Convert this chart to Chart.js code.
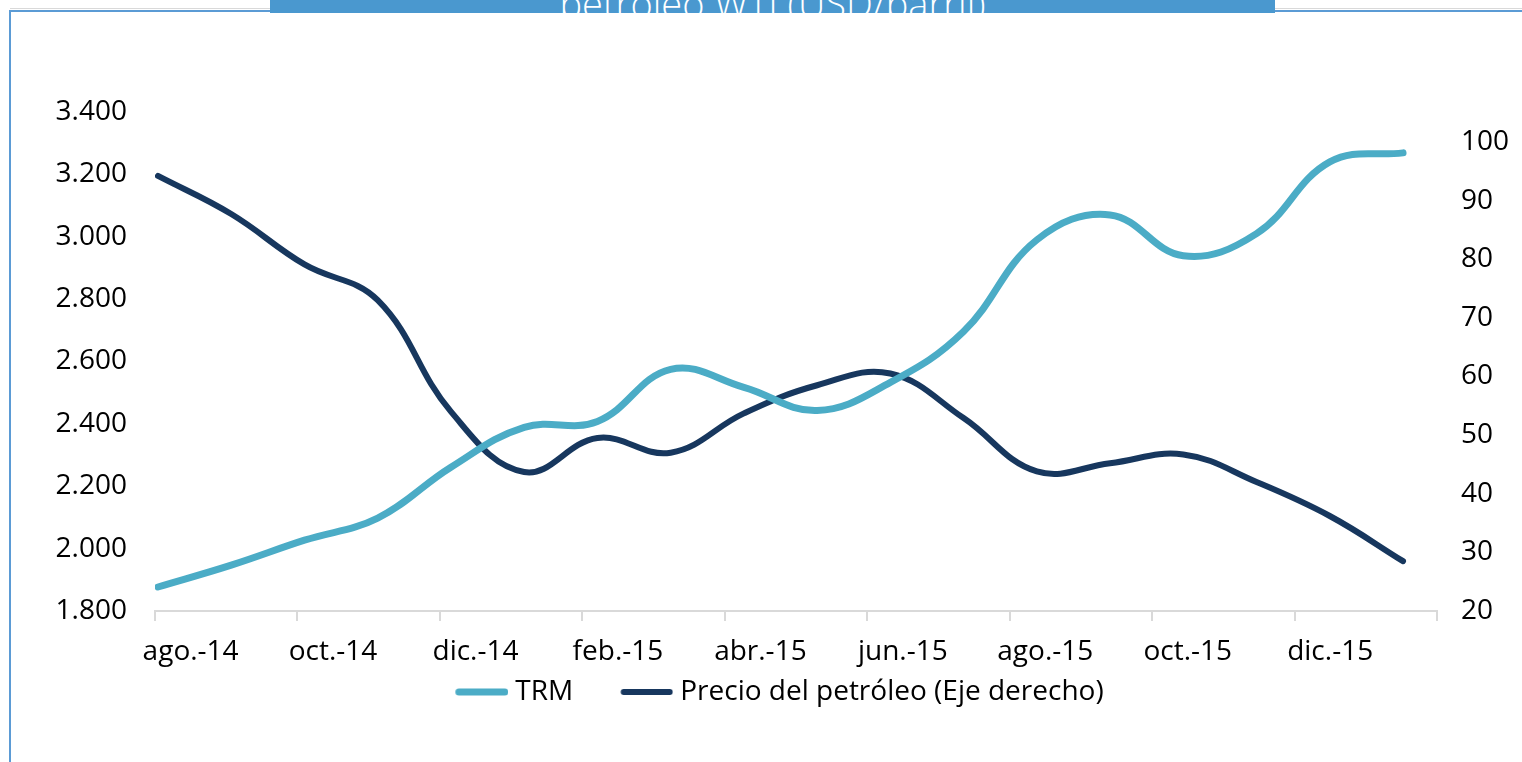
<!DOCTYPE html>
<html>
<head>
<meta charset="utf-8">
<script src="https://cdn.jsdelivr.net/npm/chart.js@4.4.1/dist/chart.umd.min.js"></script>
<style>
  body { margin: 0; background: #fff; }
  #wrap { position: relative; width: 1522px; height: 762px; overflow: hidden; }
  .line-gray { position: absolute; left: 10px; top: 8px; width: 1512px; height: 1px; background: #d9d9d9; }
  .line-top { position: absolute; left: 10px; top: 10px; width: 1512px; height: 2px; background: #5b9bd5; }
  .line-left { position: absolute; left: 9px; top: 10px; width: 2px; height: 752px; background: #5b9bd5; }
  .title { position: absolute; left: 270px; top: 0; width: 1005px; height: 13px; background: #4a98cf; overflow: hidden; }
  .title span { position: absolute; left: 0; right: 0; top: -23px; line-height: 38px; text-align: center;
    color: #fff; font: 300 38px 'Open Sans', sans-serif; white-space: nowrap; }
  canvas { position: absolute; left: 0; top: 0; }
</style>
</head>
<body>
<div id="wrap">
  <div class="line-gray"></div>
  <div class="line-top"></div>
  <div class="line-left"></div>
  <div class="title"><span>petróleo WTI (USD/barril)</span></div>
  <canvas id="chart" width="1522" height="762"></canvas>
</div>
<script>
// meses (ago-14 a ene-16)
var months = ['ago.-14', 'sep.-14', 'oct.-14', 'nov.-14', 'dic.-14', 'ene.-15', 'feb.-15', 'mar.-15', 'abr.-15',
  'may.-15', 'jun.-15', 'jul.-15', 'ago.-15', 'sep.-15', 'oct.-15', 'nov.-15', 'dic.-15', 'ene.-16'];
// TRM (COP/USD), eje izquierdo
var trm = [1877, 1947, 2027, 2098, 2261, 2389, 2408, 2575, 2517, 2443, 2533, 2696, 2990, 3070, 2939, 3010, 3240, 3269];
// Precio del petroleo WTI (USD/barril), eje derecho
var oil = [94.2, 87.7, 79.1, 73.0, 54.0, 43.7, 49.5, 47.0, 53.7, 58.5, 60.5, 52.9, 43.8, 45.2, 46.7, 42.0, 36.2, 28.5];

var leftTicks = [1800, 2000, 2200, 2400, 2600, 2800, 3000, 3200, 3400];
var rightTicks = [20, 30, 40, 50, 60, 70, 80, 90, 100];

var colTrm = '#4bacc6';
var colOil = '#17375e';

function toPoints(arr) {
  return arr.map(function (v, i) { return { x: i, y: v }; });
}
function fmtMiles(v) {
  return String(v).replace(/\B(?=(\d{3})+(?!\d))/g, '.');
}
// muestra de linea para la leyenda (linea pegada al texto, hueco a la izquierda)
function legendLine(color, width) {
  var c = document.createElement('canvas');
  c.width = 97;
  c.height = 10;
  var g = c.getContext('2d');
  g.strokeStyle = color;
  g.lineWidth = width;
  g.lineCap = 'round';
  g.beginPath();
  g.moveTo(47.5, 5);
  g.lineTo(93.5, 5);
  g.stroke();
  return c;
}

var font = { family: "'Open Sans', sans-serif", size: 28 };

var chart = new Chart(document.getElementById('chart'), {
  type: 'line',
  data: {
    labels: months,
    datasets: [
      {
        label: 'TRM',
        data: toPoints(trm),
        xAxisID: 'xData',
        yAxisID: 'y',
        borderColor: colTrm,
        backgroundColor: colTrm,
        borderWidth: 7,
        borderCapStyle: 'round',
        tension: 0.4,
        pointRadius: 0,
        pointStyle: legendLine(colTrm, 7)
      },
      {
        label: 'Precio del petróleo (Eje derecho)',
        data: toPoints(oil),
        xAxisID: 'xData',
        yAxisID: 'y1',
        borderColor: colOil,
        backgroundColor: colOil,
        borderWidth: 6,
        borderCapStyle: 'round',
        tension: 0.4,
        pointRadius: 0,
        pointStyle: legendLine(colOil, 6)
      }
    ]
  },
  options: {
    responsive: false,
    animation: false,
    layout: { padding: { top: 112, left: 0, right: 0, bottom: 46 } },
    plugins: {
      legend: {
        position: 'bottom',
        labels: {
          font: font,
          color: '#000',
          usePointStyle: true,
          pointStyleWidth: 83,
          padding: 10
        }
      },
      tooltip: { enabled: false }
    },
    scales: {
      x: {
        type: 'category',
        offset: true,
        grid: {
          offset: true,
          drawOnChartArea: false,
          tickLength: 10,
          lineWidth: 2,
          color: function (ctx) {
            return (ctx.index === undefined || ctx.index % 2 === 0) ? '#d9d9d9' : 'rgba(0,0,0,0)';
          }
        },
        border: { color: '#d9d9d9', width: 2 },
        ticks: {
          autoSkip: false,
          maxRotation: 0,
          font: font,
          color: '#000',
          padding: 14,
          callback: function (v, i) { return i % 2 === 0 ? months[i] : ''; }
        },
        afterFit: function (s) { s.height = 57; }
      },
      xData: {
        type: 'linear',
        display: false,
        min: -0.041,
        max: 17.464
      },
      y: {
        position: 'left',
        min: leftTicks[0],
        max: leftTicks[leftTicks.length - 1],
        grid: { display: false },
        border: { display: false },
        ticks: {
          stepSize: 200,
          font: font,
          color: '#000',
          padding: 20,
          callback: function (v) { return fmtMiles(v); }
        },
        afterFit: function (s) { s.width = 155; }
      },
      y1: {
        position: 'right',
        min: rightTicks[0],
        max: 105.1,
        grid: { display: false },
        border: { display: false },
        afterBuildTicks: function (s) {
          s.ticks = rightTicks.map(function (v) { return { value: v }; });
        },
        ticks: {
          font: font,
          color: '#000',
          padding: 16
        },
        afterFit: function (s) { s.width = 85; }
      }
    }
  }
});
</script>
</body>
</html>
